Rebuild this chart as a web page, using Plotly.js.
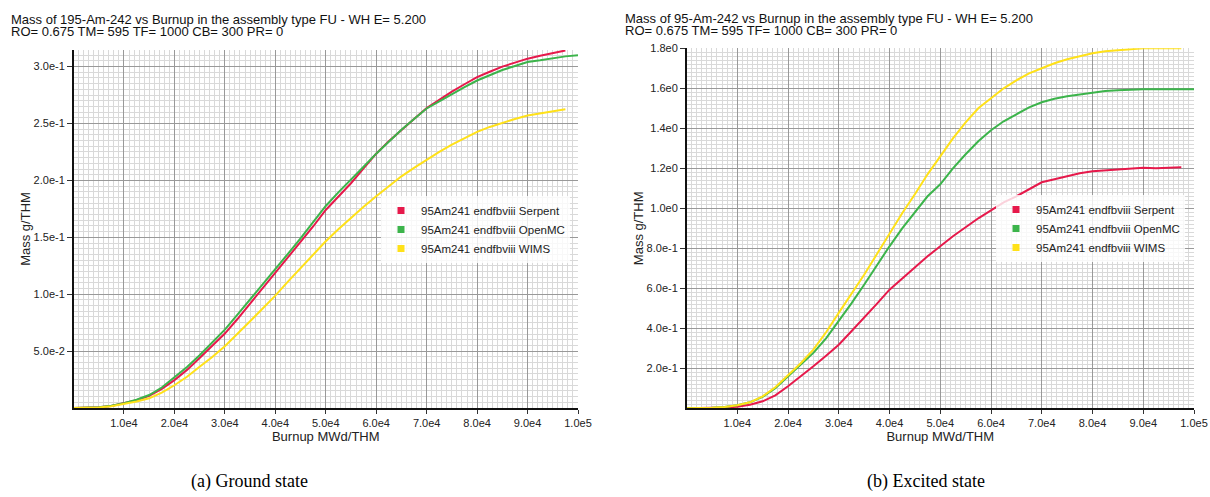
<!DOCTYPE html>
<html>
<head>
<meta charset="utf-8">
<script src="https://cdn.plot.ly/plotly-3.0.1.min.js"></script>
<style>
  html, body { margin: 0; padding: 0; background: #fff; }
  #chart { width: 1210px; height: 497px; }
</style>
</head>
<body>
<div id="chart"></div>
<script>
// ---------- data ----------
const burnup = [0,2500,5000,7500,10000,12500,15000,17500,20000,22500,25000,27500,30000,32500,35000,37500,40000,42500,45000,47500,50000,52500,55000,57500,60000,62500,65000,67500,70000,72500,75000,77500,80000,82500,85000,87500,90000,92500,95000,97500,100000];

const seriesNames = ["95Am241 endfbviii Serpent", "95Am241 endfbviii OpenMC", "95Am241 endfbviii WIMS"];
const seriesColors = ["#e6194b", "#3cb44b", "#ffe119"];

// (a) Ground state
const groundSerpent = [0,0.0001,0.0006,0.0018,0.004,0.0068,0.0108,0.0168,0.0245,0.0335,0.044,0.0545,0.0654,0.0782,0.0917,0.105,0.1185,0.132,0.1454,0.1595,0.174,0.186,0.1975,0.2105,0.2235,0.2345,0.2446,0.254,0.2636,0.271,0.278,0.2845,0.2907,0.2955,0.300,0.3035,0.307,0.3095,0.3117,0.3142];
const groundOpenMC = [0,0.0001,0.0006,0.0019,0.0042,0.0072,0.0114,0.018,0.0266,0.036,0.0464,0.0575,0.0689,0.082,0.0952,0.1085,0.122,0.1355,0.149,0.1635,0.1775,0.1895,0.2005,0.212,0.2235,0.2345,0.2446,0.254,0.2632,0.2695,0.2759,0.282,0.2878,0.2925,0.297,0.3005,0.304,0.3055,0.3075,0.309,0.310];
const groundWIMS = [0,0.0001,0.0005,0.0016,0.0036,0.0058,0.0085,0.0135,0.020,0.0275,0.0362,0.0448,0.0543,0.065,0.0762,0.0875,0.0987,0.111,0.123,0.135,0.1465,0.157,0.167,0.1768,0.186,0.195,0.2036,0.211,0.2182,0.225,0.2314,0.237,0.2427,0.247,0.2506,0.254,0.257,0.2588,0.2605,0.2625];

// (b) Excited state
const excitedSerpent = [0,0.0005,0.002,0.004,0.008,0.018,0.035,0.065,0.11,0.158,0.21,0.263,0.318,0.385,0.452,0.522,0.593,0.65,0.705,0.76,0.81,0.86,0.905,0.95,0.99,1.03,1.06,1.095,1.13,1.145,1.16,1.175,1.185,1.19,1.195,1.198,1.203,1.2,1.203,1.205];
const excitedOpenMC = [0,0.0005,0.003,0.007,0.015,0.03,0.057,0.1,0.16,0.215,0.277,0.35,0.435,0.525,0.618,0.715,0.81,0.9,0.98,1.06,1.12,1.2,1.27,1.335,1.39,1.435,1.47,1.505,1.53,1.548,1.56,1.57,1.58,1.587,1.59,1.593,1.595,1.595,1.595,1.595,1.595];
const excitedWIMS = [0,0.0005,0.003,0.007,0.015,0.03,0.06,0.105,0.165,0.225,0.293,0.38,0.477,0.572,0.668,0.77,0.875,0.975,1.07,1.17,1.26,1.35,1.43,1.5,1.55,1.6,1.64,1.675,1.70,1.725,1.745,1.76,1.775,1.785,1.79,1.795,1.8,1.8,1.8,1.8];

// ticks
const xTickVals = [10000,20000,30000,40000,50000,60000,70000,80000,90000,100000];
const xTickText = ["1.0e4","2.0e4","3.0e4","4.0e4","5.0e4","6.0e4","7.0e4","8.0e4","9.0e4","1.0e5"];
const yTickValsA = [0.05,0.1,0.15,0.2,0.25,0.3];
const yTickTextA = ["5.0e-2","1.0e-1","1.5e-1","2.0e-1","2.5e-1","3.0e-1"];
const yTickValsB = [0.2,0.4,0.6,0.8,1.0,1.2,1.4,1.6,1.8];
const yTickTextB = ["2.0e-1","4.0e-1","6.0e-1","8.0e-1","1.0e0","1.2e0","1.4e0","1.6e0","1.8e0"];

const titleA1 = "Mass of 195-Am-242 vs Burnup in the assembly type FU - WH E= 5.200";
const titleB1 = "Mass of 95-Am-242 vs Burnup in the assembly type FU - WH E= 5.200";
const title2 = "RO= 0.675 TM= 595 TF= 1000 CB= 300 PR= 0";
const captionA = "(a) Ground state";
const captionB = "(b) Excited state";
const xTitle = "Burnup MWd/THM";
const yTitle = "Mass g/THM";

// ---------- figure ----------
const W = 1210, H = 497;
const px = v => v / W;
const py = v => 1 - v / H;

function lineTrace(vals, i, xa, ya) {
  return {
    x: burnup.slice(0, vals.length), y: vals,
    type: "scatter", mode: "lines",
    line: { color: seriesColors[i], width: 2 },
    xaxis: xa, yaxis: ya, showlegend: false, hoverinfo: "skip"
  };
}
function legendTrace(i, xa, ya, lg) {
  return {
    x: [null], y: [null], type: "scatter", mode: "markers",
    name: seriesNames[i],
    marker: { color: seriesColors[i], symbol: "square", size: 7 },
    xaxis: xa, yaxis: ya, legend: lg, showlegend: true
  };
}

const data = [
  lineTrace(groundSerpent, 0, "x", "y"),
  lineTrace(groundOpenMC, 1, "x", "y"),
  lineTrace(groundWIMS, 2, "x", "y"),
  lineTrace(excitedSerpent, 0, "x2", "y2"),
  lineTrace(excitedOpenMC, 1, "x2", "y2"),
  lineTrace(excitedWIMS, 2, "x2", "y2"),
  legendTrace(0, "x", "y", "legend"),
  legendTrace(1, "x", "y", "legend"),
  legendTrace(2, "x", "y", "legend"),
  legendTrace(0, "x2", "y2", "legend2"),
  legendTrace(1, "x2", "y2", "legend2"),
  legendTrace(2, "x2", "y2", "legend2")
];

const font = { family: "Liberation Sans, Arial, sans-serif", color: "#222" };

function xAxis(dom, anchor) {
  return {
    domain: dom, anchor: anchor, range: [0, 100000], fixedrange: true,
    tickmode: "array", tickvals: xTickVals, ticktext: xTickText,
    ticks: "outside", ticklen: 4, tickcolor: "#333",
    tickfont: { size: 11, color: "#222" },
    showline: true, linecolor: "#111", linewidth: 1.5,
    showgrid: true, gridcolor: "#999999", gridwidth: 1,
    zeroline: false,
    minor: { tickmode: "linear", tick0: 0, dtick: 1000, showgrid: true, gridcolor: "#d9d9d9", gridwidth: 1, ticks: "" },
    title: { text: xTitle, font: { size: 13, color: "#222" }, standoff: 4 },
    automargin: false
  };
}
function yAxis(dom, anchor, range, tv, tt, mdt) {
  return {
    domain: dom, anchor: anchor, range: range, fixedrange: true,
    tickmode: "array", tickvals: tv, ticktext: tt,
    ticks: "outside", ticklen: 5, tickcolor: "#333",
    tickfont: { size: 11, color: "#222" },
    showline: true, linecolor: "#111", linewidth: 1.5,
    showgrid: true, gridcolor: "#999999", gridwidth: 1,
    zeroline: false,
    minor: { tickmode: "linear", tick0: 0, dtick: mdt, showgrid: true, gridcolor: "#d9d9d9", gridwidth: 1, ticks: "" },
    title: { text: yTitle, font: { size: 13, color: "#222" }, standoff: 0 },
    automargin: false
  };
}

const layout = {
  width: W, height: H,
  margin: { l: 0, r: 0, t: 0, b: 0 },
  paper_bgcolor: "#fff", plot_bgcolor: "#fff",
  font: font,
  showlegend: true,
  xaxis: xAxis([px(73.5), px(578)], "y"),
  yaxis: yAxis([py(408), py(50)], "x", [0, 0.3146], yTickValsA, yTickTextA, 0.005),
  xaxis2: xAxis([px(686.5), px(1194)], "y2"),
  yaxis2: yAxis([py(408.3), py(48.3)], "x2", [0, 1.8], yTickValsB, yTickTextB, 0.02),
  legend: {
    x: px(381), y: py(196), xanchor: "left", yanchor: "top",
    bgcolor: "rgba(255,255,255,0.8)", borderwidth: 0,
    font: { size: 11.5, color: "#222" }, itemwidth: 30, tracegroupgap: 0
  },
  legend2: {
    x: px(996), y: py(195), xanchor: "left", yanchor: "top",
    bgcolor: "rgba(255,255,255,0.8)", borderwidth: 0,
    font: { size: 11.5, color: "#222" }, itemwidth: 30, tracegroupgap: 0
  },
  annotations: [
    { text: titleA1, x: px(9), y: py(19.5), xref: "paper", yref: "paper", xanchor: "left", yanchor: "middle", showarrow: false, font: { size: 13, color: "#111" } },
    { text: title2, x: px(9), y: py(32), xref: "paper", yref: "paper", xanchor: "left", yanchor: "middle", showarrow: false, font: { size: 13, color: "#111" } },
    { text: titleB1, x: px(622.7), y: py(18), xref: "paper", yref: "paper", xanchor: "left", yanchor: "middle", showarrow: false, font: { size: 13, color: "#111" } },
    { text: title2, x: px(622.7), y: py(30.7), xref: "paper", yref: "paper", xanchor: "left", yanchor: "middle", showarrow: false, font: { size: 13, color: "#111" } },
    { text: captionA, x: px(249), y: py(481), xref: "paper", yref: "paper", xanchor: "center", yanchor: "middle", showarrow: false, font: { family: "Liberation Serif, Times New Roman, serif", size: 18, color: "#000" } },
    { text: captionB, x: px(926), y: py(481), xref: "paper", yref: "paper", xanchor: "center", yanchor: "middle", showarrow: false, font: { family: "Liberation Serif, Times New Roman, serif", size: 18, color: "#000" } }
  ]
};

Plotly.newPlot("chart", data, layout, { displayModeBar: false, staticPlot: true });
</script>
</body>
</html>
